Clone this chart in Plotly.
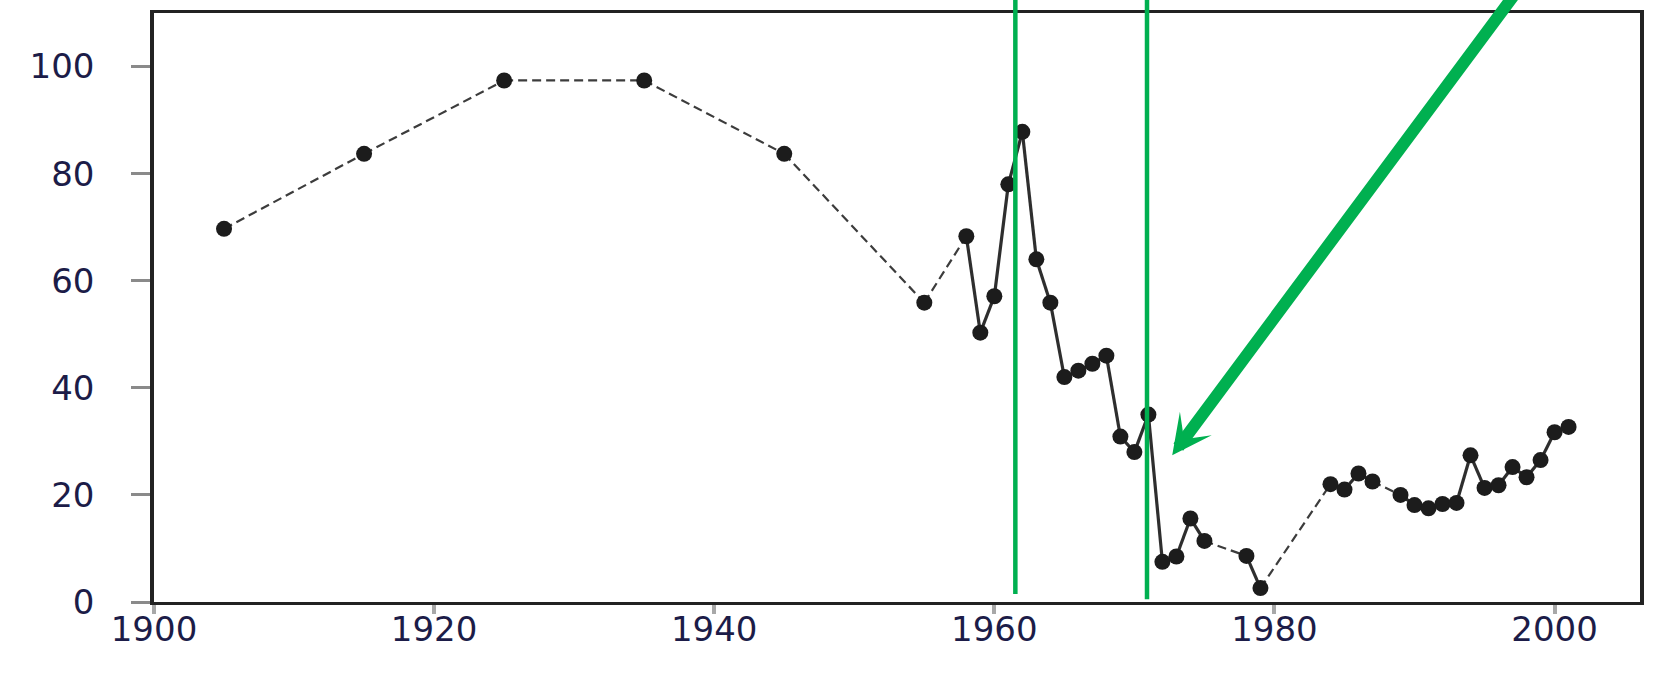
import plotly.graph_objects as go

# ---- data ----
years = [1905, 1915, 1925, 1935, 1945, 1955, 1958, 1959, 1960, 1961, 1962, 1963,
         1964, 1965, 1966, 1967, 1968, 1969, 1970, 1971, 1972, 1973, 1974, 1975,
         1978, 1979, 1984, 1985, 1986, 1987, 1989, 1990, 1991, 1992, 1993, 1994,
         1995, 1996, 1997, 1998, 1999, 2000, 2001]
values = [69.7, 83.7, 97.4, 97.4, 83.7, 55.9, 68.3, 50.3, 57.1, 78.0, 87.8, 64.0,
          55.9, 42.0, 43.2, 44.5, 46.0, 30.9, 28.0, 35.0, 7.5, 8.5, 15.6, 11.4,
          8.6, 2.6, 22.0, 21.0, 24.0, 22.5, 20.0, 18.1, 17.5, 18.3, 18.5, 27.4,
          21.3, 21.8, 25.2, 23.3, 26.5, 31.7, 32.7]

x_ticks = [1900, 1920, 1940, 1960, 1980, 2000]
y_ticks = [0, 20, 40, 60, 80, 100]

# green markers (vertical lines) : year, lower end value
vlines_year = [1961.5, 1970.9]
vlines_bottom = [1.5, 0.5]
# green arrow: tip (year, value) and tail (year, value)
arrow_tip = (1972.7, 27.4)
arrow_tail = (1999.0, 120.0)

X_RANGE = [1900, 2006.1]
Y_RANGE = [0, 110]

# ---- split line into consecutive-year (solid) and gap (dashed) segments ----
sx, sy, dx, dy = [], [], [], []
for i in range(len(years) - 1):
    seg_x = [years[i], years[i + 1], None]
    seg_y = [values[i], values[i + 1], None]
    if years[i + 1] - years[i] == 1:
        sx += seg_x; sy += seg_y
    else:
        dx += seg_x; dy += seg_y

fig = go.Figure()
fig.add_trace(go.Scatter(x=dx, y=dy, mode="lines",
                         line=dict(color="#3c3c3c", width=2.2, dash="9px,5px"),
                         hoverinfo="skip", showlegend=False))
fig.add_trace(go.Scatter(x=sx, y=sy, mode="lines",
                         line=dict(color="#2e2e2e", width=3.2),
                         hoverinfo="skip", showlegend=False))
fig.add_trace(go.Scatter(x=years, y=values, mode="markers",
                         marker=dict(color="#1c1c1c", size=16, line=dict(width=0)),
                         showlegend=False))

green = "#00B050"
for yr, bot in zip(vlines_year, vlines_bottom):
    fig.add_shape(type="line", xref="x", yref="paper",
                  x0=yr, x1=yr, y0=bot / Y_RANGE[1], y1=1.2,
                  line=dict(color=green, width=4.5), layer="above")

fig.add_annotation(x=arrow_tip[0], y=arrow_tip[1], xref="x", yref="y",
                   ax=arrow_tail[0], ay=arrow_tail[1], axref="x", ayref="y",
                   text="", showarrow=True, arrowhead=3, arrowsize=0.55,
                   arrowwidth=12, arrowcolor=green, standoff=0)

tick_font = dict(family="DejaVu Sans", size=34, color="#1c1c48")

fig.update_layout(
    width=1654, height=674,
    margin=dict(l=154, r=14, t=13, b=72, autoexpand=False),
    plot_bgcolor="white", paper_bgcolor="white",
    xaxis=dict(range=X_RANGE, tickvals=x_ticks, ticktext=[str(v) for v in x_ticks],
               showline=True, linecolor="#222222", linewidth=3, mirror=True,
               ticks="outside", ticklen=9, tickwidth=4, tickcolor="#a8a8a8",
               ticklabelstandoff=-14,
               showgrid=False, zeroline=False, tickfont=tick_font),
    yaxis=dict(range=Y_RANGE, tickvals=y_ticks, ticktext=[str(v) for v in y_ticks],
               showline=True, linecolor="#222222", linewidth=3.5, mirror=True,
               ticks="outside", ticklen=19, tickwidth=3, tickcolor="#8a8a8a",
               ticklabelstandoff=30,
               showgrid=False, zeroline=False, tickfont=tick_font),
)

fig.write_html(
    "out.html",
    config={"displayModeBar": False},
    post_script="document.body.style.margin='0';document.body.style.overflow='hidden';",
)
